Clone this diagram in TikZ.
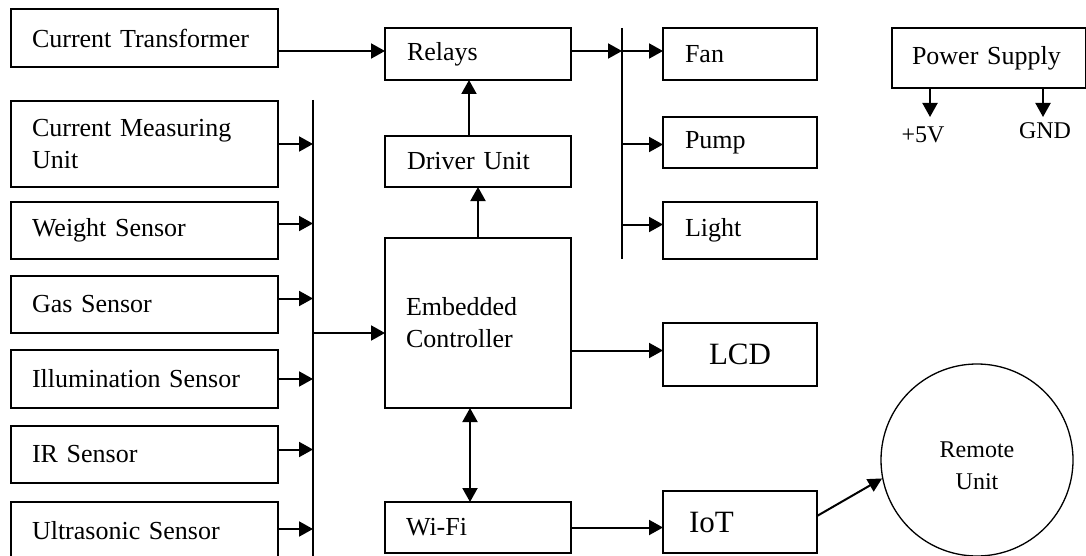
\documentclass[tikz,border=0pt]{standalone}
\usepackage{fontspec}
\setmainfont{Liberation Serif}
\usetikzlibrary{arrows.meta}
\newcommand\fontmain{\fontsize{26}{32}\selectfont}
\newcommand\fontbig{\fontsize{31}{36}\selectfont}
\newcommand\fontsmall{\fontsize{24}{32}\selectfont}
\begin{document}
\begin{tikzpicture}[x=1pt,y=-1pt,
  box/.style={draw, line width=2pt, anchor=north west, outer sep=0pt,
    inner ysep=2pt, align=left, font=\fontmain},
  sz/.style n args={2}{text width=#1, minimum height=#2},
  arr/.style={line width=2pt, -{Triangle[length=14pt,width=15pt]}},
  darr/.style={line width=2pt, {Triangle[length=14pt,width=15pt]}-{Triangle[length=14pt,width=15pt]}},
  busline/.style={line width=2pt}]
\useasboundingbox (0,0) rectangle (1086,556);
% left column
\node[box, inner xsep=21pt, sz={225pt}{58pt}] (ct) at (11,9) {Current Transformer};
\node[box, inner xsep=21pt, sz={225pt}{86pt}] (cmu) at (11,101) {Current Measuring\\Unit};
\node[box, inner xsep=21pt, sz={225pt}{57pt}] (ws) at (11,202) {Weight Sensor};
\node[box, inner xsep=21pt, sz={225pt}{57pt}] (gs) at (11,276) {Gas Sensor};
\node[box, inner xsep=21pt, sz={225pt}{58pt}] (il) at (11,350) {Illumination Sensor};
\node[box, inner xsep=21pt, sz={225pt}{57pt}] (ir) at (11,426) {IR Sensor};
\node[box, inner xsep=21pt, sz={225pt}{58pt}] (us) at (11,502) {Ultrasonic Sensor};
% middle column
\node[box, inner xsep=22pt, sz={142pt}{52pt}] (relays) at (385,28) {Relays};
\node[box, inner xsep=22pt, sz={142pt}{51pt}] (driver) at (385,136) {Driver Unit};
\node[box, inner xsep=21pt, sz={144pt}{170pt}, text depth=34pt] (ec) at (385,238) {Embedded\\Controller};
\node[box, inner xsep=21pt, sz={144pt}{51pt}] (wifi) at (385,502) {Wi-Fi};
% right column
\node[box, inner xsep=22pt, sz={110pt}{52pt}] (fan) at (663,28) {Fan};
\node[box, inner xsep=22pt, sz={110pt}{51pt}] (pump) at (663,117) {Pump};
\node[box, inner xsep=22pt, sz={110pt}{57pt}] (light) at (663,202) {Light};
\node[box, inner xsep=10pt, sz={134pt}{63pt}, align=center, font=\fontbig] (lcd) at (663,323) {LCD};
\node[box, inner xsep=26pt, sz={102pt}{62pt}, font=\fontbig] (iot) at (663,491) {IoT};
% power supply
\node[box, inner xsep=20pt, sz={154pt}{60pt}] (ps) at (892,28) {Power Supply};
\coordinate (p5) at (930,117);
\coordinate (pg) at (1043,117);
\node[font=\fontsmall, anchor=base, inner sep=0pt] (v5) at (923,143) {+5V};
\node[font=\fontsmall, anchor=base, inner sep=0pt] (gnd) at (1045,139) {GND};
\draw[arr] (ps.south -| p5) -- (p5);
\draw[arr] (ps.south -| pg) -- (pg);
% remote unit
\node[draw, circle, line width=1.3pt, minimum size=192pt, inner sep=0pt,
  label={[align=center, font=\fontsmall, yshift=-6pt]center:{Remote\\Unit}}] (remote) at (977,460) {};
% buses
\coordinate (b1top) at (313,100);
\coordinate (b1bot) at (313,560);
\coordinate (b2top) at (622,28);
\coordinate (b2bot) at (622,259);
\draw[busline] (b1top) -- (b1bot);
\draw[busline] (b2top) -- (b2bot);
% sensor arrows to bus
\draw[arr] (cmu.east) -- (cmu.east -| b1top);
\draw[arr] ([yshift=7pt]ws.east) -- ([yshift=7pt]ws.east -| b1top);
\draw[arr] ([yshift=6pt]gs.east) -- ([yshift=6pt]gs.east -| b1top);
\draw[arr] (il.east) -- (il.east -| b1top);
\draw[arr] ([yshift=5pt]ir.east) -- ([yshift=5pt]ir.east -| b1top);
\draw[arr] ([yshift=2pt]us.east) -- ([yshift=2pt]us.east -| b1top);
\draw[arr] ([yshift=-10pt]ec.west -| b1top) -- ([yshift=-10pt]ec.west);
% top row
\draw[arr] ([yshift=3pt]relays.west -| ct.east) -- ([yshift=3pt]relays.west);
\draw[arr] ([yshift=3pt]relays.east) -- ([yshift=3pt]relays.east -| b2top);
\draw[arr] ([yshift=3pt]fan.west -| b2top) -- ([yshift=3pt]fan.west);
\draw[arr] ([yshift=-2pt]pump.west -| b2top) -- ([yshift=-2pt]pump.west);
\draw[arr] ([yshift=6pt]light.west -| b2top) -- ([yshift=6pt]light.west);
% vertical links
\draw[arr] ([xshift=-9pt]driver.north) -- ([xshift=-9pt]relays.south);
\draw[arr] (ec.north) -- (ec.north |- driver.south);
\draw[darr] ([xshift=-8pt]ec.south) -- ([xshift=-8pt]wifi.north);
% right links
\draw[arr] ([yshift=4pt]lcd.west -| ec.east) -- ([yshift=4pt]lcd.west);
\draw[arr] (wifi.east) -- (wifi.east -| iot.west);
\draw[line width=2pt, -{Triangle[length=14pt,width=14pt]}] ([yshift=6pt]iot.east) -- (remote.191);
\end{tikzpicture}
\end{document}
